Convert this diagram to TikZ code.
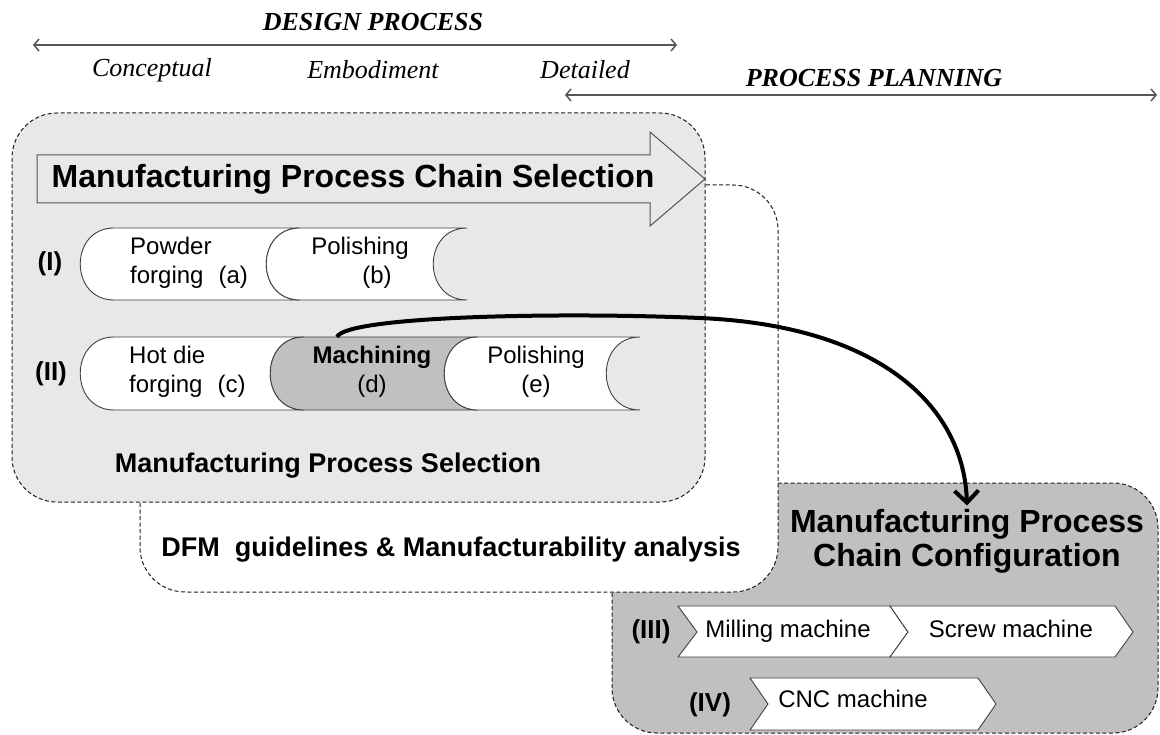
\documentclass[tikz,border=0pt]{standalone}
\usepackage{fontspec}
\setmainfont{Liberation Serif}
\setsansfont{Liberation Sans}
\usepackage{tikz}
\usetikzlibrary{arrows.meta,positioning,calc}
\definecolor{panelgray}{HTML}{E8E8E8}
\definecolor{configgray}{HTML}{C0C0C0}
\definecolor{edgegray}{HTML}{404040}
\definecolor{dashgray}{HTML}{1E1E1E}
\definecolor{spangray}{HTML}{555555}

\newcommand{\fsz}[2]{\fontsize{#1}{#2}\selectfont}
% one piece of a lying cylinder: left and right ends are both "(" arcs
\newcommand{\procseg}[5]{%
  \draw[segline, fill=#1] (#2,#4) -- (#3,#4)
    .. controls ({#3-45},#4) and ({#3-45},#5) .. (#3,#5) -- (#2,#5)
    .. controls ({#2-45},#5) and ({#2-45},#4) .. (#2,#4) -- cycle;}

\tikzset{
  dashbox/.style={draw=dashgray, line width=1pt, dash pattern=on 4pt off 2.5pt, rounded corners=45pt},
  segline/.style={draw=edgegray, line width=0.9pt},
  chevron/.style={draw=edgegray, fill=white, line width=0.9pt},
  spanarrow/.style={draw=spangray, line width=1.5pt, {Straight Barb[length=5pt,width=12pt]}-{Straight Barb[length=5pt,width=12pt]}},
  phase/.style={font=\rmfamily\itshape\fsz{26}{30}},
  stage/.style={font=\rmfamily\bfseries\itshape\fsz{26}{30}},
  proc/.style={font=\sffamily\fsz{24}{29}, align=center, inner sep=0pt},
  rowlbl/.style={font=\sffamily\bfseries\fsz{26}{30}},
  heading/.style={font=\sffamily\bfseries\fsz{32}{34}, align=center},
  subhead/.style={font=\sffamily\bfseries\fsz{27}{30}},
}

\begin{document}
\begin{tikzpicture}[x=1pt,y=-1pt]
\useasboundingbox (0,0) rectangle (1160,735);

% panels, back to front
\draw[dashbox, fill=configgray] (612,483) rectangle (1158,733);
\draw[dashbox, fill=white] (140,185) rectangle (778,592);
\draw[dashbox, fill=panelgray] (12,113) rectangle (705,502);

\draw[edgegray!90, fill=panelgray, line width=1pt] (37,155) -- (650,155) -- (650,132) -- (705,179) -- (650,226) -- (650,203) -- (37,203) -- cycle;
\node[heading] (chainsel) at (353,179) {Manufacturing Process Chain Selection};

% process chains (I) and (II)
\procseg{white}{114}{300}{228}{300}
\procseg{white}{300}{467}{228}{300}
\procseg{white}{114}{304}{337}{410}
\procseg{configgray}{304}{478}{337}{410}
\procseg{white}{478}{640}{337}{410}

\node[rowlbl] (rowI) at (50,264) {(I)};
\node[proc, align=left, anchor=west] (powder) at (130,263) {Powder\\forging\hspace{15pt}(a)};
\node[proc] (polishb) at (360,263) {Polishing\\\hspace*{34pt}(b)};
\node[rowlbl] (rowII) at (51,374) {(II)};
\node[proc, align=left, anchor=west] (hotdie) at (129,372) {Hot die\\forging\hspace{15pt}(c)};
\node[proc] (mach) at (372,372) {{\bfseries Machining}\\(d)};
\node[proc] (polishe) at (536,372) {Polishing\\(e)};
\node[subhead] (mpsel) at (328,466) {Manufacturing Process Selection};
\node[subhead] (dfm) at (451,550) {DFM\ \ guidelines \& Manufacturability analysis};

% machine chains (III) and (IV)
\node[heading] (cfgtitle) at (967,541) {Manufacturing Process\\Chain Configuration};
\draw[chevron] (678,606) -- (890,606) -- (908,632) -- (890,657) -- (678,657) -- (697,632) -- cycle;
\draw[chevron] (890,606) -- (1115,606) -- (1133,632) -- (1115,657) -- (890,657) -- (908,632) -- cycle;
\draw[chevron] (750,678) -- (978,678) -- (996,704) -- (978,730) -- (750,730) -- (768,704) -- cycle;
\node[rowlbl] (rowIII) at (651,632) {(III)};
\node[proc, anchor=base] (milling) at (788,637) {Milling machine};
\node[proc, anchor=base] (screw) at (1011,637) {Screw machine};
\node[rowlbl] (rowIV) at (710,705) {(IV)};
\node[proc, anchor=base] (cnc) at (853,707) {CNC machine};

\coordinate (machtop) at (337,337);
\draw[line width=4pt, -{Straight Barb[length=12pt,width=24pt]}] (machtop) .. controls (346,316) and (560,312) .. (700,318) .. controls (885,326) and (964,410) .. (cfgtitle.north);

% phase axes
\coordinate (dpL) at (33,45);
\coordinate (dpR) at (677,45);
\coordinate (ppL) at (565,95);
\coordinate (ppR) at (1157,95);
\draw[spanarrow] (dpL) -- (dpR);
\draw[spanarrow] (ppL) -- (ppR);
\node[stage] (design) at (373,22) {DESIGN PROCESS};
\node[phase] (concept) at (152,70) {Conceptual};
\node[phase] (embod) at (373,70) {Embodiment};
\node[phase] (detail) at (585,70) {Detailed};
\node[stage] (planning) at (874,78) {PROCESS PLANNING};
\end{tikzpicture}
\end{document}
